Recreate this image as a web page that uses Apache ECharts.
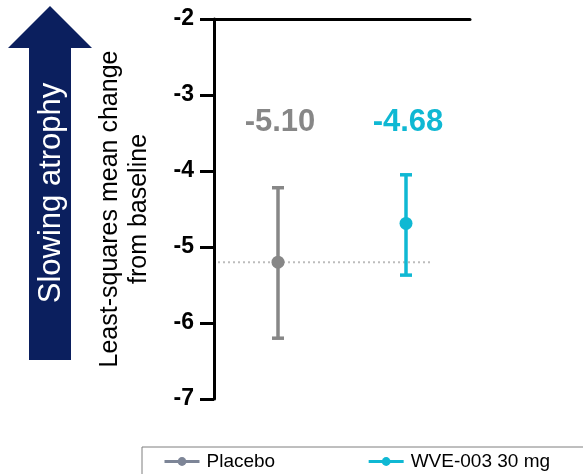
<!DOCTYPE html>
<html>
<head>
<meta charset="utf-8">
<script src="https://cdn.jsdelivr.net/npm/echarts@6/dist/echarts.min.js"></script>
<style>
  html, body { margin: 0; padding: 0; background: #fff; }
  #chart { width: 583px; height: 474px; }
</style>
</head>
<body>
<div id="chart"></div>
<script>
// groups and values
var groups = ['Placebo', 'WVE-003 30 mg'];
var means = [-5.20, -4.69];
var lower = [-6.20, -5.37];
var upper = [-4.22, -4.05];
var shownValues = ['-5.10', '-4.68'];
var yTicks = [-7, -6, -5, -4, -3, -2];

var colors = ['#878787', '#0fb8d3'];
var legendColors = ['#7d8597', '#0fb8d3'];
var labelY = -3.36;

var chart = echarts.init(document.getElementById('chart'));

function pointData(i) {
    return groups.map(function (g, j) { return j === i ? means[i] : '-'; });
}

chart.setOption({
    animation: false,
    grid: { left: 214, right: 113, top: 19, bottom: 75 },
    xAxis: {
        type: 'category',
        data: groups,
        position: 'top',
        axisLine: { lineStyle: { color: '#000', width: 3 } },
        axisTick: { show: false },
        axisLabel: { show: false },
        splitLine: { show: false }
    },
    yAxis: {
        type: 'value',
        min: yTicks[0],
        max: yTicks[yTicks.length - 1],
        interval: 1,
        name: 'Least-squares mean change\nfrom baseline',
        nameLocation: 'middle',
        nameRotate: 90,
        nameGap: 60,
        nameTextStyle: { fontFamily: 'Liberation Sans', fontSize: 25, color: '#000', lineHeight: 29 },
        axisLine: { show: true, lineStyle: { color: '#000', width: 3 } },
        axisTick: { show: true, length: 14, lineStyle: { color: '#000', width: 3 } },
        axisLabel: { margin: 20, fontFamily: 'Liberation Sans', fontWeight: 'bold', fontSize: 23, color: '#000' },
        splitLine: { show: false }
    },
    legend: {
        data: groups.map(function (g, i) {
            return { name: g, itemStyle: { color: legendColors[i] }, lineStyle: { color: legendColors[i], width: 3 } };
        }),
        left: 142,
        top: 447,
        width: 500,
        padding: [5, 40, 10, 21],
        itemGap: 92,
        itemWidth: 35,
        itemHeight: 11,
        borderColor: '#7f7f7f',
        borderWidth: 1,
        textStyle: { fontFamily: 'Liberation Sans', fontSize: 19, color: '#000', padding: [0, 0, 0, 2] }
    },
    graphic: [
        {
            type: 'polygon',
            shape: { points: [[50, 6], [92, 48], [71, 48], [71, 360], [29, 360], [29, 48], [8, 48]] },
            style: { fill: '#0b1f5e' }
        },
        {
            type: 'text',
            x: 51, y: 193,
            rotation: Math.PI / 2,
            style: {
                text: 'Slowing atrophy',
                fill: '#fff',
                font: '31px "Liberation Sans"',
                align: 'center',
                verticalAlign: 'middle'
            }
        }
    ],
    series: [
        {
            name: 'error bars',
            type: 'custom',
            z: 3,
            data: groups.map(function (g, i) { return [i, lower[i], upper[i], means[i]]; }),
            renderItem: function (params, api) {
                var i = api.value(0);
                var lo = api.coord([i, api.value(1)]);
                var hi = api.coord([i, api.value(2)]);
                var c = colors[i];
                var cap = 6;
                var children = [
                    { type: 'line', shape: { x1: lo[0], y1: lo[1], x2: hi[0], y2: hi[1] }, style: { stroke: c, lineWidth: 3.5 } },
                    { type: 'line', shape: { x1: lo[0] - cap, y1: lo[1], x2: lo[0] + cap, y2: lo[1] }, style: { stroke: c, lineWidth: 3.5 } },
                    { type: 'line', shape: { x1: hi[0] - cap, y1: hi[1], x2: hi[0] + cap, y2: hi[1] }, style: { stroke: c, lineWidth: 3.5 } }
                ];
                var lab = api.coord([i, labelY]);
                children.push({
                    type: 'text',
                    x: lab[0] + 2, y: lab[1],
                    style: {
                        text: shownValues[i], fill: c,
                        font: 'bold 31px "Liberation Sans"',
                        align: 'center', verticalAlign: 'middle'
                    }
                });
                if (i === 0) {
                    var m = api.coord([0, api.value(3)]);
                    var end = api.coord([1, api.value(3)]);
                    children.unshift({
                        type: 'line',
                        shape: { x1: params.coordSys.x + 4, y1: m[1], x2: end[0] + 26, y2: m[1] },
                        style: { stroke: '#bdbdbd', lineWidth: 2, lineDash: [2, 3] }
                    });
                }
                return { type: 'group', children: children };
            }
        },
        {
            name: groups[0],
            type: 'line',
            z: 4,
            data: pointData(0),
            symbol: 'circle',
            symbolSize: 13,
            itemStyle: { color: colors[0] },
            lineStyle: { color: colors[0] }
        },
        {
            name: groups[1],
            type: 'line',
            z: 4,
            data: pointData(1),
            symbol: 'circle',
            symbolSize: 13,
            itemStyle: { color: colors[1] },
            lineStyle: { color: colors[1] }
        }
    ]
});
</script>
</body>
</html>
